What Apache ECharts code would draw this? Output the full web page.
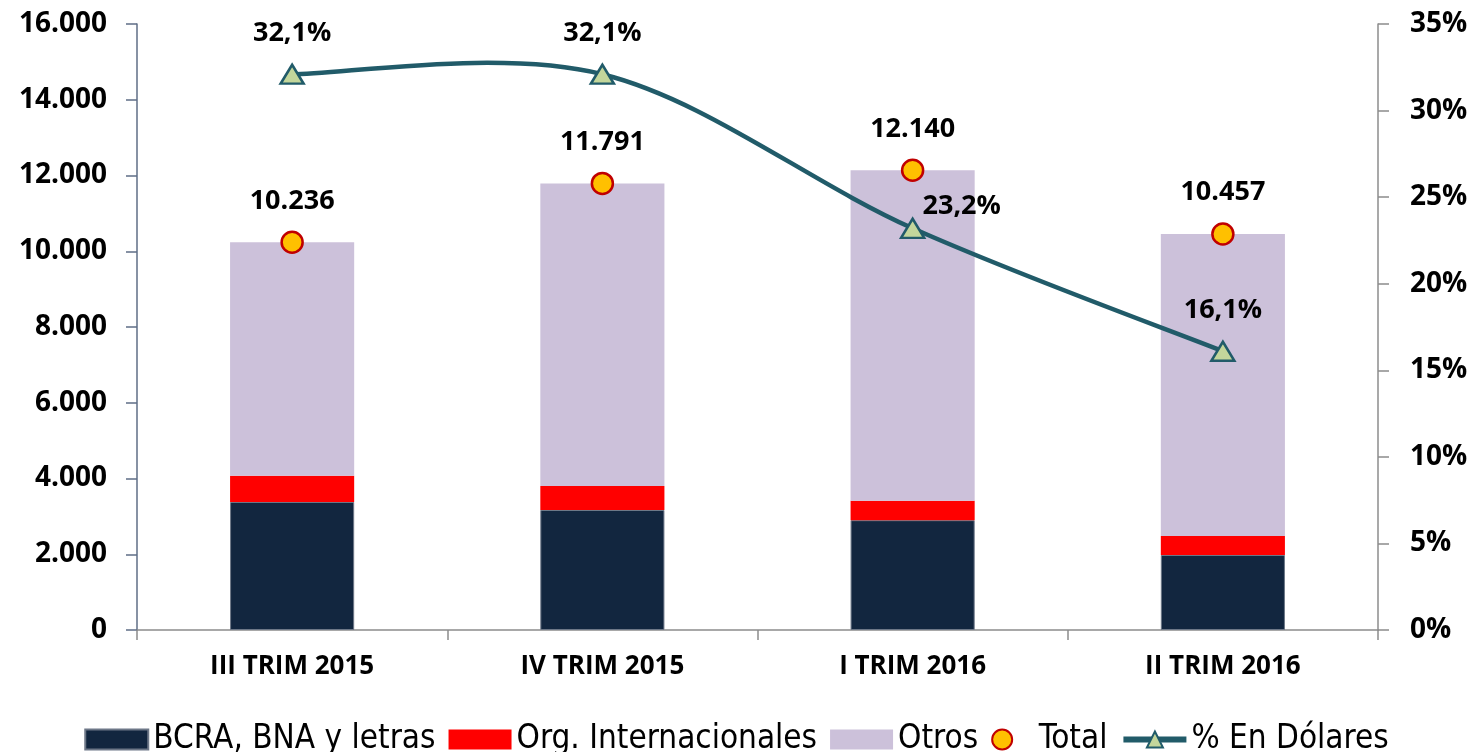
<!DOCTYPE html>
<html>
<head>
<meta charset="utf-8">
<script src="https://cdn.jsdelivr.net/npm/echarts@6/dist/echarts.min.js"></script>
<style>
  html, body { margin: 0; padding: 0; background: #fff; }
  #chart { width: 1473px; height: 752px; }
</style>
</head>
<body>
<div id="chart"></div>
<script>
"use strict";

var categories = ['III TRIM 2015', 'IV TRIM 2015', 'I TRIM 2016', 'II TRIM 2016'];
var bcra = [3380, 3170, 2900, 1980];
var orgInt = [690, 630, 510, 500];
var otros = [6166, 7991, 8730, 7977];
var totals = [10236, 11791, 12140, 10457];
var pctDolares = [32.1, 32.1, 23.2, 16.1];

var leftTicks = ['0', '2.000', '4.000', '6.000', '8.000', '10.000', '12.000', '14.000', '16.000'];

var axisColor = '#8c8c8c';
var lineColor = '#215b69';

function fmtThousands(v) {
	return String(v).replace(/\B(?=(\d{3})+(?!\d))/g, '.');
}

var myChart = echarts.init(document.getElementById('chart'));

// label placement for each % point (the third one sits to the right)
var pctLabelPos = [
	{ position: 'top', distance: 17 },
	{ position: 'top', distance: 17 },
	{ position: 'right', distance: 0, offset: [-3, -22] },
	{ position: 'top', distance: 17 }
];

// smooth curve like the spreadsheet one (catmull-rom, allows overshoot)
function renderCurve(params, api) {
	var i = params.dataIndex;
	var n = pctDolares.length;
	if (i >= n - 1) {
		return { type: 'group', children: [] };
	}
	function pt(j) {
		j = Math.max(0, Math.min(n - 1, j));
		return api.coord([j, pctDolares[j]]);
	}
	var p0 = pt(i - 1), p1 = pt(i), p2 = pt(i + 1), p3 = pt(i + 2);
	return {
		type: 'bezierCurve',
		shape: {
			x1: p1[0], y1: p1[1],
			x2: p2[0], y2: p2[1],
			cpx1: p1[0] + (p2[0] - p0[0]) / 6,
			cpy1: p1[1] + (p2[1] - p0[1]) / 6,
			cpx2: p2[0] - (p3[0] - p1[0]) / 6,
			cpy2: p2[1] - (p3[1] - p1[1]) / 6
		},
		style: { stroke: lineColor, lineWidth: 4.5, fill: null, lineCap: 'round' },
		z2: 1
	};
}

var option = {
	animation: false,
	textStyle: { fontFamily: 'Open Sans, sans-serif' },
	grid: { left: 137, right: 95, top: 24, bottom: 122 },
	legend: {
		bottom: -9,
		left: 'center',
		itemGap: 13,
		itemWidth: 63,
		itemHeight: 20,
		textStyle: { fontFamily: 'DejaVu Sans Condensed, Liberation Sans Narrow, sans-serif', fontSize: 33, color: '#000' },
		data: [
			{ name: 'BCRA, BNA y letras', icon: 'rect' },
			{ name: 'Org. Internacionales', icon: 'rect' },
			{ name: 'Otros', icon: 'rect' },
			{ name: 'Total', icon: 'circle' },
			{ name: '% En Dólares', lineStyle: { color: lineColor, width: 6, opacity: 1 } }
		]
	},
	xAxis: {
		type: 'category',
		data: categories,
		axisLine: { lineStyle: { color: axisColor, width: 1.5 } },
		axisTick: { show: true, length: 10, lineStyle: { color: axisColor, width: 1.5 } },
		axisLabel: { fontSize: 26, fontWeight: 'bold', color: '#000', margin: 24 }
	},
	yAxis: [{
		type: 'value',
		min: 0,
		max: 16000,
		interval: 2000,
		axisLine: { show: true, lineStyle: { color: '#5f6e86', width: 1.5 } },
		axisTick: { show: true, length: 11, lineStyle: { color: '#5f6e86', width: 1.5 } },
		splitLine: { show: false },
		axisLabel: {
			fontSize: 28, fontWeight: 'bold', color: '#000', margin: 30,
			formatter: function(v) { return leftTicks[Math.round(v / 2000)]; }
		}
	}, {
		type: 'value',
		min: 0,
		max: 35,
		interval: 5,
		axisLine: { show: true, lineStyle: { color: axisColor, width: 1.5 } },
		axisTick: { show: true, length: 11, lineStyle: { color: axisColor, width: 1.5 } },
		splitLine: { show: false },
		axisLabel: {
			fontSize: 28, fontWeight: 'bold', color: '#000', margin: 32,
			formatter: function(v) { return v + '%'; }
		}
	}],
	series: [{
		name: 'BCRA, BNA y letras',
		type: 'bar',
		stack: 'total',
		barWidth: '40%',
		itemStyle: { color: '#12263f', borderColor: '#6d7787', borderWidth: 1 },
		data: bcra
	}, {
		name: 'Org. Internacionales',
		type: 'bar',
		stack: 'total',
		itemStyle: { color: '#ff0000' },
		data: orgInt
	}, {
		name: 'Otros',
		type: 'bar',
		stack: 'total',
		itemStyle: { color: '#ccc1da' },
		data: otros
	}, {
		name: 'Total',
		type: 'scatter',
		symbol: 'circle',
		symbolSize: 21,
		itemStyle: { color: '#ffc000', borderColor: '#c00000', borderWidth: 2.5, opacity: 1 },
		label: {
			show: true,
			position: 'top',
			distance: 16,
			fontSize: 27,
			fontWeight: 'bold',
			color: '#000',
			formatter: function(p) { return fmtThousands(p.value); }
		},
		z: 5,
		data: totals
	}, {
		name: 'curve',
		type: 'custom',
		yAxisIndex: 1,
		renderItem: renderCurve,
		silent: true,
		z: 6,
		data: pctDolares.map(function(v, i) { return [i, v]; })
	}, {
		name: '% En Dólares',
		type: 'line',
		yAxisIndex: 1,
		symbol: 'triangle',
		symbolSize: [23, 19],
		showAllSymbol: true,
		lineStyle: { color: lineColor, width: 4.5, opacity: 0 },
		itemStyle: { color: '#c3d69b', borderColor: lineColor, borderWidth: 2.5 },
		z: 7,
		data: pctDolares.map(function(v, i) {
			var pos = pctLabelPos[i];
			return {
				value: v,
				label: {
					show: true,
					position: pos.position,
					distance: pos.distance,
					offset: pos.offset || [0, 0],
					fontSize: 27,
					fontWeight: 'bold',
					color: '#000',
					formatter: function(p) { return String(p.value).replace('.', ',') + '%'; }
				}
			};
		})
	}]
};

myChart.setOption(option);
</script>
</body>
</html>
